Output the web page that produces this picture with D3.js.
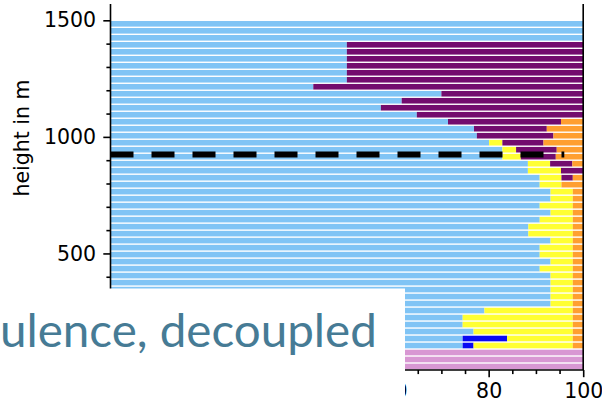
<!DOCTYPE html>
<html>
<head>
<meta charset="utf-8">
<script src="https://cdn.jsdelivr.net/npm/d3@7/dist/d3.min.js"></script>
<style>
  html, body { margin: 0; padding: 0; background: #ffffff; }
  svg { display: block; }
</style>
</head>
<body>
<svg id="chart" width="602" height="406"></svg>
<script>
// Height levels (bar centres, m), bottom to top
const heights = [
  15, 45, 75, 105, 135, 165, 195, 225, 255, 285,
  315, 345, 375, 405, 435, 465, 495, 525, 555, 585,
  615, 645, 675, 705, 735, 765, 795, 825, 855, 885,
  915, 945, 975, 1005, 1035, 1065, 1095, 1125, 1155, 1185,
  1215, 1245, 1275, 1305, 1335, 1365, 1395, 1425, 1455, 1485
];

// Share of each class per level, in percent (same order as heights)
const pinkShare = [
  100, 100, 100, 0, 0, 0, 0, 0, 0, 0,
  0, 0, 0, 0, 0, 0, 0, 0, 0, 0,
  0, 0, 0, 0, 0, 0, 0, 0, 0, 0,
  0, 0, 0, 0, 0, 0, 0, 0, 0, 0,
  0, 0, 0, 0, 0, 0, 0, 0, 0, 0
];
const skyShare = [
  0, 0, 0, 74.5, 74.5, 76.8, 74.5, 74.5, 79.1, 93.1,
  93.1, 93.1, 93.1, 93.1, 90.8, 93.1, 90.8, 90.8, 93.1, 88.4,
  88.4, 90.8, 93.1, 90.8, 93.1, 93.1, 90.8, 90.8, 88.3, 88.3,
  82.9, 82.9, 80.1, 77.5, 76.9, 71.4, 64.8, 57.2, 61.6, 70.0,
  42.9, 50.0, 50.0, 50.0, 50.0, 50.0, 50.0, 100, 100, 100
];
const blueShare = [
  0, 0, 0, 2.3, 9.4, 0, 0, 0, 0, 0,
  0, 0, 0, 0, 0, 0, 0, 0, 0, 0,
  0, 0, 0, 0, 0, 0, 0, 0, 0, 0,
  0, 0, 0, 0, 0, 0, 0, 0, 0, 0,
  0, 0, 0, 0, 0, 0, 0, 0, 0, 0
];
const yellowShare = [
  0, 0, 0, 21.0, 13.9, 21.0, 23.3, 23.3, 18.7, 4.7,
  4.7, 4.7, 4.7, 4.7, 7.0, 4.7, 7.0, 7.0, 4.7, 9.4,
  9.4, 7.0, 4.7, 7.0, 4.7, 4.7, 4.6, 4.6, 7.0, 4.7,
  3.9, 2.9, 2.8, 0, 0, 0, 0, 0, 0, 0,
  0, 0, 0, 0, 0, 0, 0, 0, 0, 0
];
const purpleShare = [
  0, 0, 0, 0, 0, 0, 0, 0, 0, 0,
  0, 0, 0, 0, 0, 0, 0, 0, 0, 0,
  0, 0, 0, 0, 0, 0, 0, 2.4, 4.7, 4.7,
  7.4, 8.6, 8.7, 16.2, 15.4, 23.9, 35.2, 42.8, 38.4, 30.0,
  57.1, 50.0, 50.0, 50.0, 50.0, 50.0, 50.0, 0, 0, 0
];
const orangeShare = [
  0, 0, 0, 2.2, 2.2, 2.2, 2.2, 2.2, 2.2, 2.2,
  2.2, 2.2, 2.2, 2.2, 2.2, 2.2, 2.2, 2.2, 2.2, 2.2,
  2.2, 2.2, 2.2, 2.2, 2.2, 2.2, 4.6, 2.2, 0, 2.3,
  5.8, 5.6, 8.4, 6.3, 7.7, 4.7, 0, 0, 0, 0,
  0, 0, 0, 0, 0, 0, 0, 0, 0, 0
];

const seriesKeys = ["pink", "sky", "blue", "yellow", "purple", "orange"];
const seriesColors = ["#d897d3", "#80c4f5", "#0a0af2", "#ffff33", "#730c6e", "#ff9f30"];

// Tick labels
const xMajorTicks = [0, 20, 40, 60, 80, 100];
const yMajorTicks = [500, 1000, 1500];

// Inversion height marker (m) and its horizontal extent (%)
const markerHeight = 924;
const markerEnd = 96;

const noteText = "ulence, decoupled";

// ---- layout ----
const W = 602, H = 406;
const plot = { left: 110.5, right: 583.2, top: 4, bottom: 370 };
const barHalf = 12;   // half bar thickness in m

const svg = d3.select("#chart");

const x = d3.scaleLinear().domain([0, 100]).range([plot.left, plot.right]);
const y = d3.scaleLinear().domain([0, 1570]).range([plot.bottom, plot.top]);

// Build table for stacking
const table = heights.map((h, i) => ({
  h,
  pink: pinkShare[i], sky: skyShare[i], blue: blueShare[i],
  yellow: yellowShare[i], purple: purpleShare[i], orange: orangeShare[i]
}));
const stacked = d3.stack().keys(seriesKeys)(table);
const color = d3.scaleOrdinal().domain(seriesKeys).range(seriesColors);

const bars = svg.append("g");
stacked.forEach(layer => {
  bars.append("g")
    .attr("fill", color(layer.key))
    .selectAll("rect")
    .data(layer.filter(d => d[1] - d[0] > 0))
    .join("rect")
      .attr("x", d => x(d[0]))
      .attr("width", d => x(d[1]) - x(d[0]))
      .attr("y", d => y(d.data.h + barHalf))
      .attr("height", d => y(d.data.h - barHalf) - y(d.data.h + barHalf));
});

// Dashed inversion line
svg.append("line")
  .attr("x1", x(0)).attr("x2", x(markerEnd))
  .attr("y1", y(markerHeight)).attr("y2", y(markerHeight))
  .attr("stroke", "#000").attr("stroke-width", 6)
  .attr("stroke-dasharray", "23 18");

// Axes
const tickFont = "DejaVu Sans, sans-serif";
const fs = 20.5;
const fmt = d3.format("d");

function styleAxis(g) {
  g.selectAll("path.domain").attr("stroke", "#000").attr("stroke-width", 1.6);
  g.selectAll(".tick line").attr("stroke", "#000").attr("stroke-width", 1.6);
  g.selectAll(".tick text").attr("fill", "#000").attr("font-family", tickFont).attr("font-size", fs);
}

// y minor ticks
const yMinor = d3.range(100, 1600, 100).filter(v => !yMajorTicks.includes(v));
svg.append("g").attr("transform", `translate(${plot.left},0)`)
  .call(d3.axisLeft(y).tickValues(yMinor).tickSize(4.1).tickSizeOuter(0).tickFormat(""))
  .call(g => g.select(".domain").remove())
  .call(styleAxis);
// y major
svg.append("g").attr("transform", `translate(${plot.left},0)`)
  .call(d3.axisLeft(y).tickValues(yMajorTicks).tickFormat(fmt).tickSize(7.2).tickPadding(7.2).tickSizeOuter(0))
  .call(g => g.select(".domain").remove())
  .call(styleAxis);

// x minor
const xMinor = d3.range(5, 100, 5).filter(v => !xMajorTicks.includes(v));
svg.append("g").attr("transform", `translate(0,${plot.bottom})`)
  .call(d3.axisBottom(x).tickValues(xMinor).tickSize(4.1).tickSizeOuter(0).tickFormat(""))
  .call(g => g.select(".domain").remove())
  .call(styleAxis);
// x major
svg.append("g").attr("transform", `translate(0,${plot.bottom})`)
  .call(d3.axisBottom(x).tickValues(xMajorTicks).tickFormat(fmt).tickSize(7.2).tickPadding(6).tickSizeOuter(0))
  .call(g => g.select(".domain").remove())
  .call(styleAxis);

// Spines: left, bottom, right
const spines = svg.append("g").attr("stroke", "#000").attr("stroke-width", 1.6).attr("fill", "none");
spines.append("path")
  .attr("d", `M${plot.left},${plot.top}V${plot.bottom}H${plot.right}V${plot.top}`);

// Axis title
svg.append("text")
  .attr("transform", `translate(28.7,138) rotate(-90)`)
  .attr("text-anchor", "middle")
  .attr("font-family", tickFont).attr("font-size", fs).attr("fill", "#000")
  .text("height in m");

// Caption panel over the lower-left corner
svg.append("rect")
  .attr("x", 0).attr("y", 288.5).attr("width", 405).attr("height", H - 288.5)
  .attr("fill", "#ffffff");

const note = svg.append("text")
  .attr("font-family", "Lato, 'Open Sans', sans-serif")
  .attr("font-size", 47)
  .attr("fill", "#467b95")
  .text(noteText);
const noteW = note.node().getComputedTextLength();
const sx = 377 / noteW;
note.attr("transform", `translate(0,346.7) scale(${sx},1)`);
</script>
</body>
</html>
